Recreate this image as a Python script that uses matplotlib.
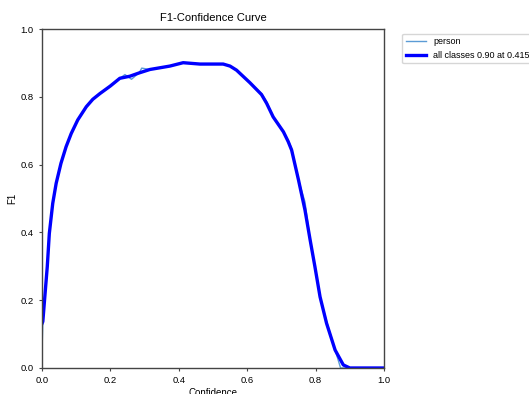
import matplotlib.pyplot as plt
import numpy as np

plt.rcParams['font.family'] = ['Liberation Sans', 'DejaVu Sans']

# values
conf = [0.0, 0.003, 0.008, 0.016, 0.022, 0.032, 0.042, 0.056, 0.071, 0.086,
        0.105, 0.13, 0.149, 0.17, 0.2, 0.228, 0.257, 0.285, 0.316, 0.345,
        0.374, 0.413, 0.462, 0.53, 0.55, 0.569, 0.608, 0.642, 0.657, 0.676,
        0.706, 0.72, 0.73, 0.75, 0.769, 0.784, 0.798, 0.813, 0.832, 0.857,
        0.881, 0.9, 0.95, 1.0]
f1_all = [0.13, 0.137, 0.20, 0.299, 0.397, 0.486, 0.545, 0.604, 0.653, 0.692,
          0.732, 0.771, 0.793, 0.810, 0.832, 0.855, 0.861, 0.871, 0.881, 0.886,
          0.891, 0.901, 0.897, 0.897, 0.891, 0.879, 0.842, 0.807, 0.781, 0.741,
          0.697, 0.668, 0.643, 0.555, 0.466, 0.378, 0.299, 0.21, 0.132, 0.053,
          0.009, 0.0, 0.0, 0.0]

conf_p = [0.0, 0.003, 0.008, 0.016, 0.022, 0.032, 0.042, 0.056, 0.071, 0.086,
          0.105, 0.13, 0.149, 0.17, 0.2, 0.228, 0.243, 0.262, 0.285, 0.292,
          0.316, 0.345, 0.374, 0.413, 0.462, 0.53, 0.55, 0.569, 0.608, 0.642,
          0.657, 0.676, 0.706, 0.72, 0.73, 0.75, 0.769, 0.784, 0.798, 0.813,
          0.832, 0.857, 0.873, 0.881, 0.9, 0.95, 1.0]
f1_person = [0.024, 0.137, 0.20, 0.299, 0.397, 0.486, 0.545, 0.604, 0.653, 0.692,
             0.732, 0.771, 0.793, 0.810, 0.832, 0.855, 0.866, 0.852, 0.872, 0.885,
             0.881, 0.886, 0.891, 0.901, 0.897, 0.897, 0.891, 0.879, 0.842, 0.81,
             0.786, 0.741, 0.697, 0.672, 0.648, 0.555, 0.49, 0.378, 0.299, 0.21,
             0.138, 0.053, 0.0, 0.0, 0.0, 0.0, 0.0]

fig = plt.figure(figsize=(5.29, 3.94), dpi=100)
ax = fig.add_axes([0.079, 0.066, 0.647, 0.86])

ax.plot(conf_p, f1_person, linewidth=1, color='#5b9bd5', label='person')
ax.plot(conf, f1_all, linewidth=2.4, color='blue', label='all classes 0.90 at 0.415')

ax.set_xlim(0, 1)
ax.set_ylim(0, 1)
ax.set_xlabel('Confidence', fontsize=7, labelpad=2)
ax.set_ylabel('F1', fontsize=7, labelpad=2)
ax.set_title('F1-Confidence Curve', fontsize=8)
ax.tick_params(labelsize=6.8, length=2.5, color='#444444')
for s in ax.spines.values():
    s.set_color('#444444')
    s.set_linewidth(1)

ax.legend(bbox_to_anchor=(1.04, 1), loc='upper left', fontsize=6.5, handlelength=2.2)

fig.savefig('out.png', dpi=100)
